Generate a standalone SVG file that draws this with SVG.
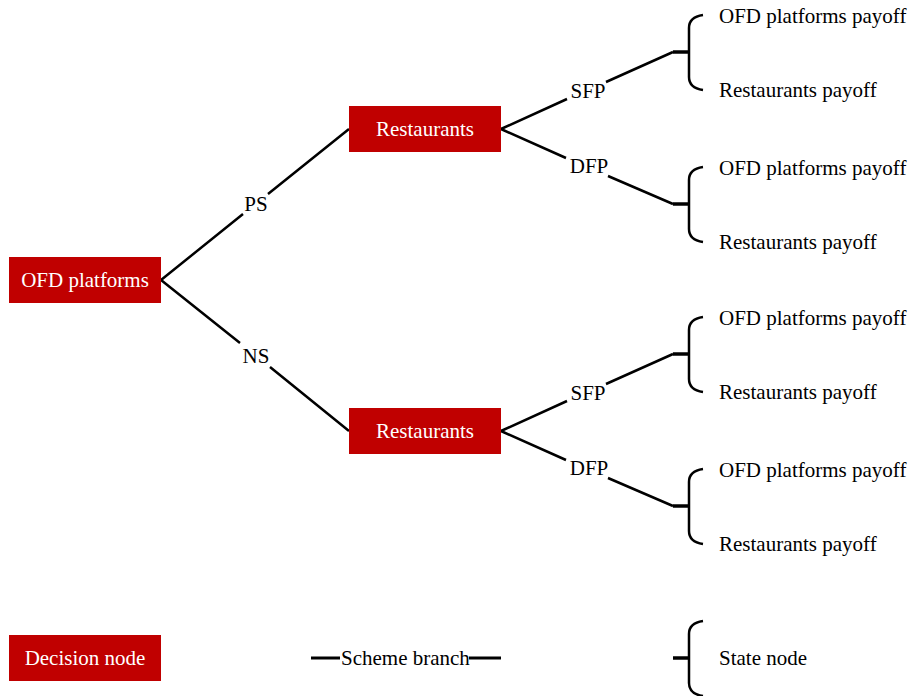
<svg xmlns="http://www.w3.org/2000/svg" xmlns:xlink="http://www.w3.org/1999/xlink" width="914" height="696" viewBox="0 0 914 696">
<style>
.node rect{fill:#C00000}
.node text{fill:#fff;font-family:"Liberation Serif","Times New Roman",serif;font-size:21px;text-anchor:middle}
.t{font-family:"Liberation Serif","Times New Roman",serif;font-size:21px;fill:#000}
.c{text-anchor:middle}
.edge{stroke:#000;stroke-width:2.5;fill:none;stroke-linecap:butt}
.br{stroke:#000;stroke-width:2.5;fill:none}
.stub{stroke:#000;stroke-width:3.5;fill:none}
.leg{stroke:#000;stroke-width:3;fill:none}
</style>
<defs>
<g id="brace">
<path class="br" d="M14,-37 Q0,-35 0,-24 L0,25 Q0,36 14,38"/>
<path class="stub" d="M-16,0 L0,0"/>
</g>
</defs>
<rect width="914" height="696" fill="#fff"/>
<g id="connectors">
<path class="edge" d="M161,280 L243,214 M268,194 L349,129"/>
<path class="edge" d="M161,280 L240,343 M270,367 L349,431"/>
<path class="edge" d="M501,129 L567,99 M606,82 L673,52"/>
<path class="edge" d="M501,129 L566,158 M608,176 L673,204"/>
<path class="edge" d="M501,431 L567,401 M606,384 L673,354"/>
<path class="edge" d="M501,431 L566,460 M608,478 L673,506"/>
</g>
<g id="labels">
<text class="t c" x="256" y="211">PS</text>
<text class="t c" x="256" y="363">NS</text>
<text class="t c" x="588" y="98">SFP</text>
<text class="t c" x="589" y="173">DFP</text>
<text class="t c" x="588" y="400">SFP</text>
<text class="t c" x="589" y="475">DFP</text>
</g>
<g id="node-ofd" class="node"><rect x="9" y="257" width="152" height="46"/><text x="85" y="287">OFD platforms</text></g>
<g id="node-rest1" class="node"><rect x="349" y="106" width="152" height="46"/><text x="425" y="136">Restaurants</text></g>
<g id="node-rest2" class="node"><rect x="349" y="408" width="152" height="46"/><text x="425" y="438">Restaurants</text></g>
<g id="state1"><use xlink:href="#brace" x="689" y="52"/><text class="t" x="719" y="23">OFD platforms payoff</text><text class="t" x="719" y="97">Restaurants payoff</text></g>
<g id="state2"><use xlink:href="#brace" x="689" y="204"/><text class="t" x="719" y="175">OFD platforms payoff</text><text class="t" x="719" y="249">Restaurants payoff</text></g>
<g id="state3"><use xlink:href="#brace" x="689" y="354"/><text class="t" x="719" y="325">OFD platforms payoff</text><text class="t" x="719" y="399">Restaurants payoff</text></g>
<g id="state4"><use xlink:href="#brace" x="689" y="506"/><text class="t" x="719" y="477">OFD platforms payoff</text><text class="t" x="719" y="551">Restaurants payoff</text></g>
<g id="legend">
<g id="legend-decision" class="node"><rect x="9" y="635" width="152" height="46"/><text x="85" y="665">Decision node</text></g>
<g id="legend-branch"><path class="leg" d="M311,658 L340,658 M469,658 L501,658"/><text class="t" x="341" y="665">Scheme branch</text></g>
<g id="legend-state"><use xlink:href="#brace" x="689" y="658"/><text class="t" x="719" y="665">State node</text></g>
</g>
</svg>
